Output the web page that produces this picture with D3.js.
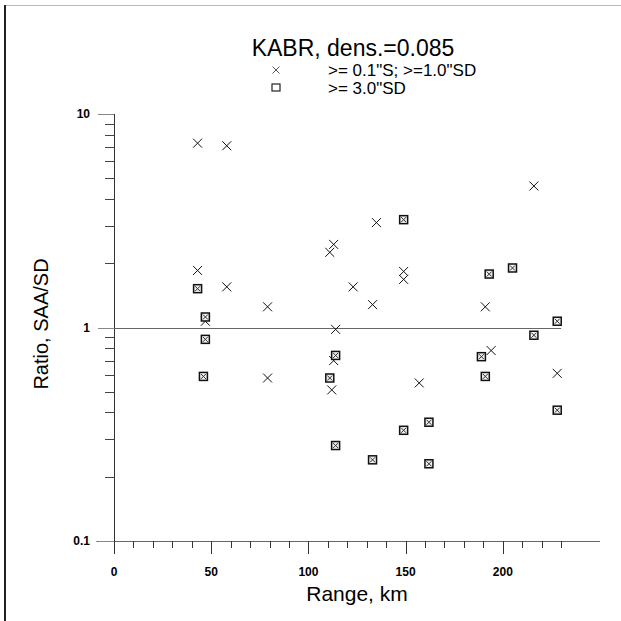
<!DOCTYPE html>
<html>
<head>
<meta charset="utf-8">
<script src="https://cdn.jsdelivr.net/npm/d3@7"></script>
<style>
  body { margin: 0; background: #fff; }
  text { font-family: "Liberation Sans", Arial, sans-serif; fill: #000; }
</style>
</head>
<body>
<svg id="plotarea" width="621" height="621"></svg>
<script>
// crosses: >= 0.1"S ; >= 1.0"SD
var cross_km  = [43, 58, 43, 58, 47, 79, 79, 113, 111, 123, 114, 113, 112, 135, 133, 149, 149, 157, 191, 194, 216, 228];
var cross_val = [7.3, 7.1, 1.85, 1.55, 1.07, 1.25, 0.58, 2.45, 2.25, 1.55, 0.98, 0.70, 0.51, 3.1, 1.28, 1.83, 1.68, 0.55, 1.25, 0.78, 4.6, 0.61];

// boxed crosses: >= 3.0"SD
var box_km  = [43, 47, 47, 46, 114, 111, 114, 133, 149, 149, 162, 162, 189, 191, 193, 205, 216, 228, 228];
var box_val = [1.52, 1.12, 0.88, 0.59, 0.74, 0.58, 0.28, 0.24, 3.2, 0.33, 0.36, 0.23, 0.73, 0.59, 1.78, 1.9, 0.92, 1.07, 0.41];

var x_ticks = d3.range(0, 240, 10);
var x_labels = [0, 50, 100, 150, 200];
var y_labels = [0.1, 1, 10];

var title_text = "KABR, dens.=0.085";
var legend_text = [">= 0.1\"S; >=1.0\"SD", ">= 3.0\"SD"];

var svg = d3.select("#plotarea");

var x = d3.scaleLinear().domain([0, 250]).range([114, 600]);
var y = d3.scaleLog().domain([0.1, 10]).range([541, 114]);

// page frame
svg.append("line").attr("x1", 5).attr("x2", 621).attr("y1", 5.5).attr("y2", 5.5)
  .attr("stroke", "#bbb").attr("stroke-width", 1);
svg.append("line").attr("x1", 5).attr("x2", 5).attr("y1", 5).attr("y2", 621)
  .attr("stroke", "#222").attr("stroke-width", 2);

// x axis
var gx = svg.append("g");
gx.append("line").attr("x1", x(-9)).attr("x2", x(250))
  .attr("y1", 541.5).attr("y2", 541.5).attr("stroke", "#666");
gx.selectAll("line.tick").data(x_ticks).enter().append("line")
  .attr("class", "tick")
  .attr("x1", function(d) { return Math.round(x(d)) + 0.5; })
  .attr("x2", function(d) { return Math.round(x(d)) + 0.5; })
  .attr("y1", 541)
  .attr("y2", function(d) { return d % 50 === 0 ? 554 : 548; })
  .attr("stroke", "#333");
gx.selectAll("text").data(x_labels).enter().append("text")
  .attr("x", function(d) { return x(d); })
  .attr("y", 576)
  .attr("text-anchor", "middle")
  .attr("font-size", 12).attr("font-weight", "bold")
  .text(function(d) { return d; });

// y axis
var gy = svg.append("g");
gy.append("line").attr("x1", 114.5).attr("x2", 114.5)
  .attr("y1", y(10)).attr("y2", 554).attr("stroke", "#333");
var y_minor = [];
[0.1, 1].forEach(function(dec) {
  d3.range(2, 10).forEach(function(k) { y_minor.push(dec * k); });
});
gy.selectAll("line.minor").data(y_minor).enter().append("line")
  .attr("class", "minor")
  .attr("x1", 105).attr("x2", 114)
  .attr("y1", function(d) { return Math.round(y(d)) + 0.5; })
  .attr("y2", function(d) { return Math.round(y(d)) + 0.5; })
  .attr("stroke", "#444");
gy.selectAll("line.major").data(y_labels).enter().append("line")
  .attr("class", "major")
  .attr("x1", 98).attr("x2", 114)
  .attr("y1", function(d) { return Math.round(y(d)) + 0.5; })
  .attr("y2", function(d) { return Math.round(y(d)) + 0.5; })
  .attr("stroke", "#888");
gy.selectAll("text").data(y_labels).enter().append("text")
  .attr("x", 90)
  .attr("y", function(d) { return y(d) + 4; })
  .attr("text-anchor", "end")
  .attr("font-size", 12).attr("font-weight", "bold")
  .text(function(d) { return d; });

// reference line at ratio = 1
svg.append("line").attr("x1", 114).attr("x2", x(230))
  .attr("y1", Math.round(y(1)) + 0.5).attr("y2", Math.round(y(1)) + 0.5)
  .attr("stroke", "#666");

// axis titles
svg.append("text").attr("x", 357).attr("y", 601)
  .attr("text-anchor", "middle").attr("font-size", 21)
  .text("Range, km");
svg.append("text")
  .attr("transform", "translate(48,324) rotate(-90)")
  .attr("text-anchor", "middle").attr("font-size", 20)
  .text("Ratio, SAA/SD");

// title + legend
svg.append("text").attr("x", 353).attr("y", 56)
  .attr("text-anchor", "middle").attr("font-size", 23)
  .text(title_text);

function draw_cross(g, cx, cy, h, color, w) {
  g.append("path")
    .attr("d", "M" + (cx - h) + "," + (cy - h) + "L" + (cx + h) + "," + (cy + h) +
               "M" + (cx - h) + "," + (cy + h) + "L" + (cx + h) + "," + (cy - h))
    .attr("stroke", color).attr("stroke-width", w).attr("fill", "none");
}

var leg = svg.append("g");
draw_cross(leg, 276, 70, 3.5, "#555", 1);
leg.append("rect").attr("x", 272).attr("y", 84).attr("width", 8).attr("height", 7)
  .attr("fill", "none").attr("stroke", "#222").attr("stroke-width", 1.2);
leg.selectAll("text").data(legend_text).enter().append("text")
  .attr("x", 328)
  .attr("y", function(d, i) { return 76 + i * 18; })
  .attr("font-size", 17)
  .text(function(d) { return d; });

// data marks
var pts = svg.append("g");
cross_km.forEach(function(k, i) {
  draw_cross(pts, x(k), y(cross_val[i]), 4.5, "#111", 1);
});
box_km.forEach(function(k, i) {
  var cx = x(box_km[i]), cy = y(box_val[i]);
  pts.append("rect").attr("x", cx - 4).attr("y", cy - 4)
    .attr("width", 8).attr("height", 8)
    .attr("fill", "#eee").attr("stroke", "#111").attr("stroke-width", 1.5);
  draw_cross(pts, cx, cy, 2.5, "#333", 1);
});
</script>
</body>
</html>
